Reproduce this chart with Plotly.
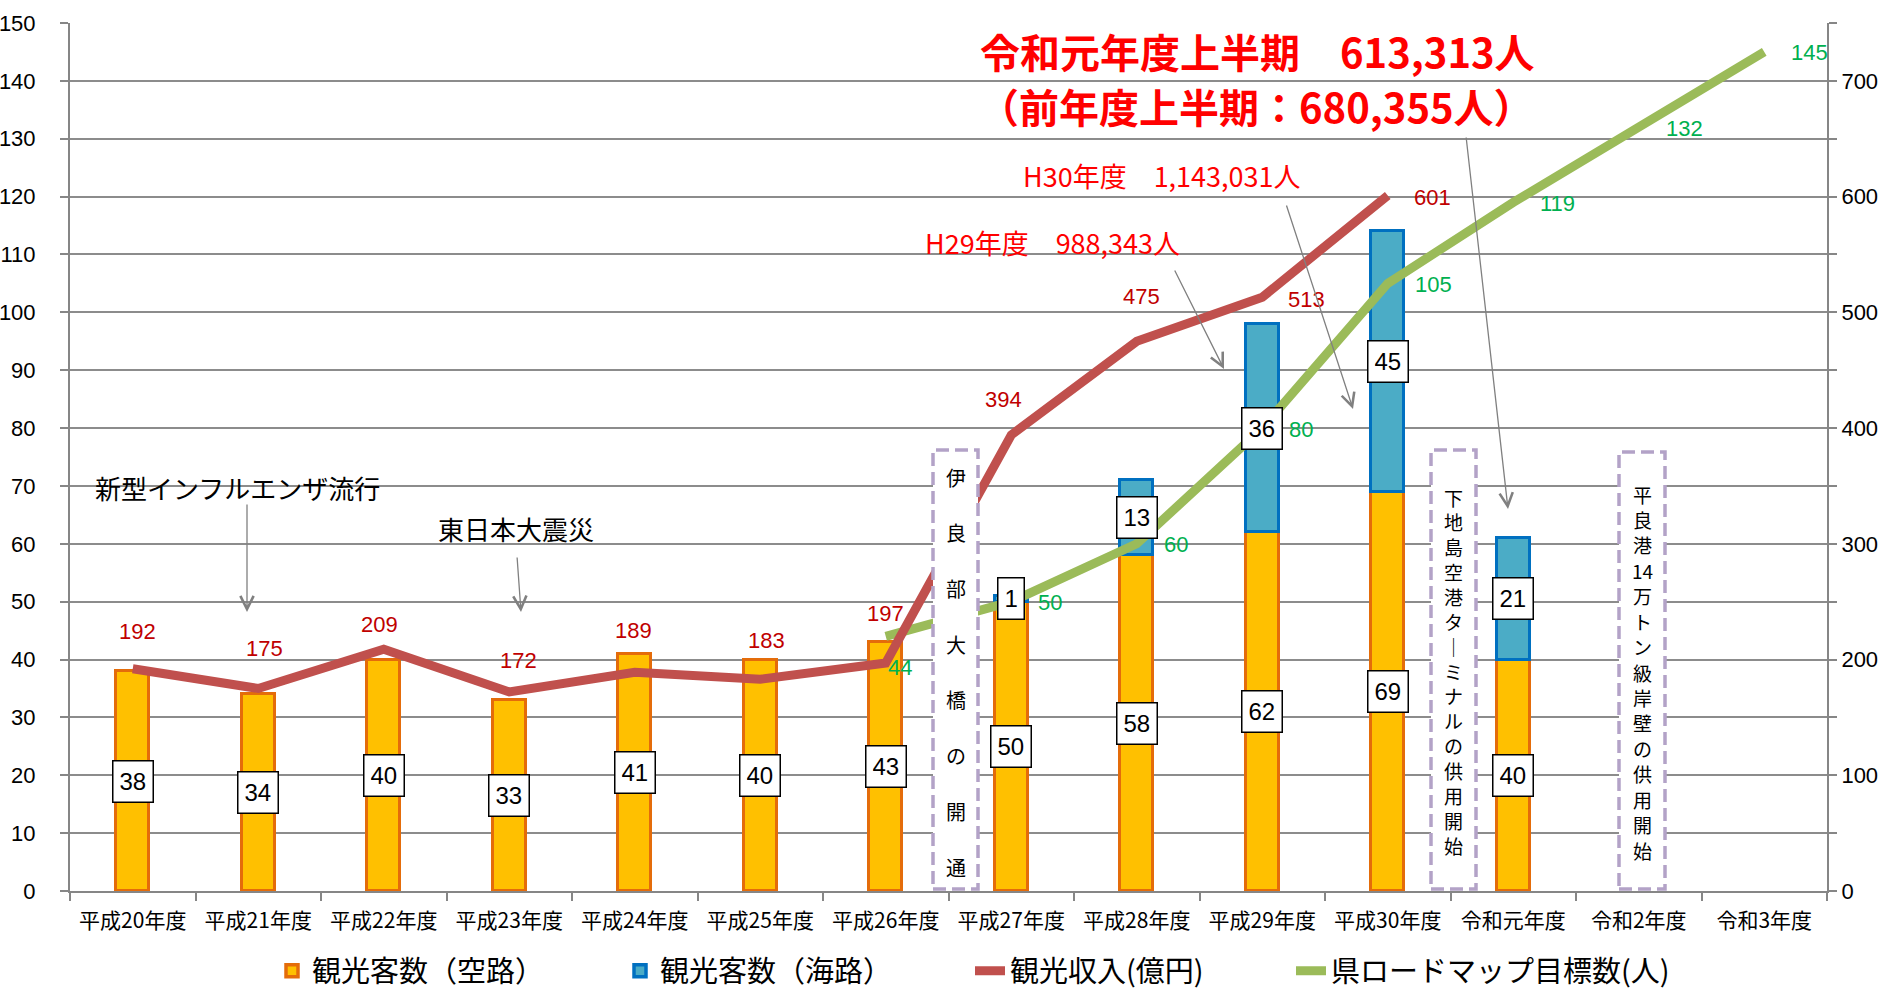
import numpy as np
import plotly.graph_objects as go

# ---------------- data ----------------
categories = ["平成20年度", "平成21年度", "平成22年度", "平成23年度", "平成24年度",
              "平成25年度", "平成26年度", "平成27年度", "平成28年度", "平成29年度",
              "平成30年度", "令和元年度", "令和2年度", "令和3年度"]
visitors_air = [38, 34, 40, 33, 41, 40, 43, 50, 58, 62, 69, 40, None, None]
visitors_sea = [None, None, None, None, None, None, None, 1, 13, 36, 45, 21, None, None]
revenue = [192, 175, 209, 172, 189, 183, 197, 394, 475, 513, 601, None, None, None]
target = [None, None, None, None, None, None, 44, 50, 60, 80, 105, 119, 132, 145]

# ---------------- layout helpers ----------------
W, H = 1897, 994
L, R, T, B = 70, 1827, 23, 891


def pxx(x):
    return (x - L) / (R - L)


def pxy(y):
    return (B - y) / (B - T)


JP = "Noto Sans CJK JP"
NUM = "Liberation Sans"

fig = go.Figure()
fig.add_bar(x=categories, y=visitors_air, name="観光客数（空路）", width=0.26,
            marker=dict(color="#FFC000", line=dict(color="#E46C0A", width=3.5)),
            legendwidth=303)
fig.add_bar(x=categories, y=visitors_sea, name="観光客数（海路）", width=0.26,
            marker=dict(color="#4BACC6", line=dict(color="#0070C0", width=3.5)),
            legendwidth=305)
fig.add_scatter(x=categories, y=revenue, yaxis="y2", mode="lines", name="観光収入(億円)",
                line=dict(color="#C0504D", width=9), legendwidth=276)
fig.add_scatter(x=categories, y=target, mode="lines", name="県ロードマップ目標数(人)",
                line=dict(color="#9BBB59", width=9))

ann = []
# bar value boxes
for c, a, s in zip(categories, visitors_air, visitors_sea):
    base = 0
    for v in (a, s):
        if v:
            ann.append(dict(x=c, y=base + v / 2, xref="x", yref="y", text=str(v), showarrow=False,
                            font=dict(family=NUM, size=24, color="black"), bgcolor="white",
                            bordercolor="black", borderwidth=1.5, borderpad=6, height=28))
            base += v

# revenue labels (red)
rev_shift = [(5, 37), (6, 40), (-4, 25), (9, 31), (-1, 42), (6, 39), (0, 50), (-8, 36), (5, 45), None, None]
for i, v in enumerate(revenue):
    if v is None:
        continue
    sh = rev_shift[i]
    if sh is None:
        ann.append(dict(x=categories[i], y=v, xref="x", yref="y2", text=str(v), showarrow=False,
                        xanchor="left", xshift=24, yshift=-2,
                        font=dict(family=NUM, size=22, color="#C00000")))
    else:
        ann.append(dict(x=categories[i], y=v, xref="x", yref="y2", text=str(v), showarrow=False,
                        xshift=sh[0], yshift=sh[1],
                        font=dict(family=NUM, size=22, color="#C00000")))

# target labels (green)
for i, v in enumerate(target):
    if v is None:
        continue
    if i == 6:
        ann.append(dict(x=categories[i], y=v, xref="x", yref="y", text=str(v), showarrow=False,
                        xshift=14, yshift=-31, font=dict(family=NUM, size=22, color="#00B050")))
    else:
        ann.append(dict(x=categories[i], y=v, xref="x", yref="y", text=str(v), showarrow=False,
                        xanchor="left", xshift=25, yshift=-1,
                        font=dict(family=NUM, size=22, color="#00B050")))


# text notes
def note(text, cx, cy, size, color="black", bold=False):
    ann.append(dict(x=pxx(cx), y=pxy(cy), xref="paper", yref="paper", text=text, showarrow=False,
                    xanchor="center", yanchor="middle",
                    font=dict(family=JP, size=size, color=color, weight="bold" if bold else "normal")))


note("新型インフルエンザ流行", 237, 487, 26)
note("東日本大震災", 516, 528, 26)
note("H29年度　988,343人", 1052, 242, 27, "#FF0000")
note("H30年度　1,143,031人", 1162, 175, 27, "#FF0000")
note("令和元年度上半期　613,313人", 1257, 51, 40, "#FF0000", True)
note("（前年度上半期：680,355人）", 1256, 106, 40, "#FF0000", True)


def arrow(tail, tip):
    ann.append(dict(x=pxx(tip[0]), y=pxy(tip[1]), xref="paper", yref="paper", text="",
                    showarrow=True, ax=tail[0] - tip[0], ay=tail[1] - tip[1],
                    arrowhead=5, arrowsize=2, arrowwidth=1.3, arrowcolor="#808080", standoff=0))


arrow((247, 503), (247, 612))
arrow((517, 556), (521, 612))
arrow((1174, 269), (1224, 369))
arrow((1286, 204), (1353, 409))
arrow((1466, 136), (1508, 509))

# dashed boxes with vertical text
shapes = []


def vbox(x0, x1, y0, y1, chars, ty0, ty1, size):
    shapes.append(dict(type="rect", xref="paper", yref="paper", x0=pxx(x0), x1=pxx(x1),
                       y0=pxy(y1), y1=pxy(y0), line=dict(color="#B3A2C7", width=3.5, dash="13px,6px"),
                       fillcolor="white", layer="above"))
    cx = (x0 + x1) / 2
    for ch, yy in zip(chars, np.linspace(ty0, ty1, len(chars))):
        ann.append(dict(x=pxx(cx), y=pxy(yy), xref="paper", yref="paper", text=ch, showarrow=False,
                        xanchor="center", yanchor="middle", font=dict(family=JP, size=size, color="black")))


vbox(933, 978, 450, 889, list("伊良部大橋の開通"), 477, 867, 20)
vbox(1431, 1476, 450, 889, list("下地島空港タ｜ミナルの供用開始"), 497, 845, 19)
vbox(1619, 1665, 452, 889, ["平", "良", "港", "14", "万", "ト", "ン", "級", "岸", "壁", "の", "供", "用", "開", "始"],
     494, 850, 19)

AX = "#868686"
fig.update_layout(
    width=W, height=H,
    margin=dict(l=L, r=W - R, t=T, b=H - B, pad=0, autoexpand=False),
    paper_bgcolor="white", plot_bgcolor="white",
    barmode="stack", bargap=0,
    font=dict(family=JP, color="black"),
    showlegend=True,
    legend=dict(orientation="h", x=pxx(272), xanchor="left", y=pxy(971), yanchor="middle",
                font=dict(family=JP, size=29, color="black"), bgcolor="rgba(0,0,0,0)",
                traceorder="normal"),
    xaxis=dict(type="category", categoryorder="array", categoryarray=categories,
               range=[-0.5, len(categories) - 0.5], automargin=False,
               showline=True, linecolor=AX, linewidth=2, ticks="outside", tickson="boundaries",
               ticklen=8, tickcolor=AX, tickwidth=1.5, showgrid=False, ticklabelstandoff=10,
               tickfont=dict(family=JP, size=21, color="black")),
    yaxis=dict(range=[0, 150], tick0=0, dtick=10, showline=True, linecolor=AX, linewidth=2,
               ticks="outside", ticklen=8, tickcolor=AX, tickwidth=1.5, zeroline=False,
               showgrid=False, ticklabelstandoff=20, automargin=False,
               minor=dict(tickvals=list(range(10, 150, 10)), showgrid=True, gridcolor="#8C8C8C",
                          gridwidth=1.5, ticks=""),
               tickfont=dict(family=NUM, size=22, color="black")),
    yaxis2=dict(range=[0, 750], tick0=0, dtick=100, overlaying="y", side="right", anchor="x",
                showline=True, linecolor=AX, linewidth=2, ticks="outside", ticklen=8,
                tickcolor=AX, tickwidth=1.5, showgrid=False, zeroline=False, automargin=False,
                minor=dict(dtick=50, ticks="outside", ticklen=8, tickcolor=AX, tickwidth=1.5, showgrid=False),
                tickfont=dict(family=NUM, size=22, color="black")),
    annotations=ann,
    shapes=shapes,
)

fig.write_html("out.html", config={"displayModeBar": False},
               post_script="document.body.style.margin='0';")
